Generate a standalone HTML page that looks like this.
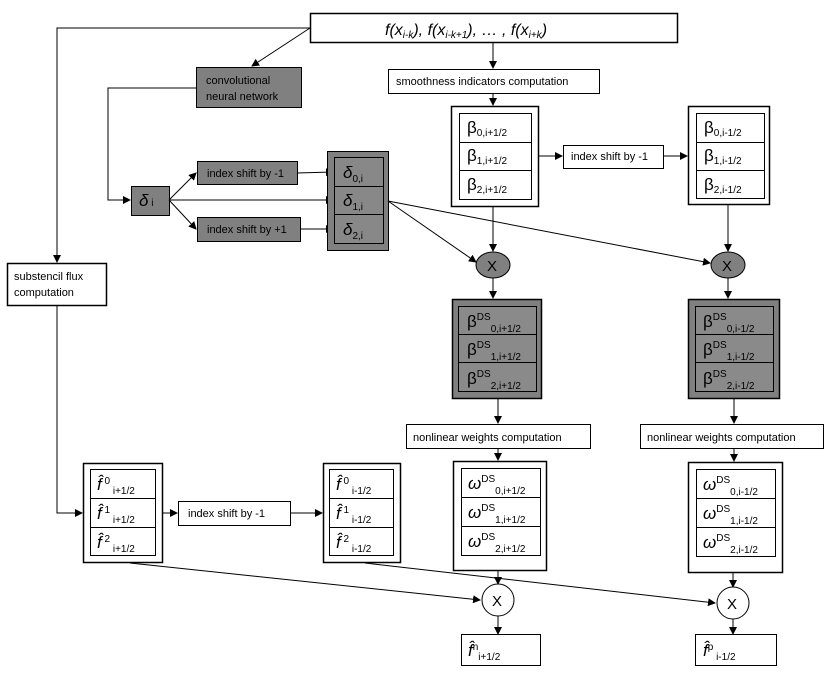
<!DOCTYPE html>
<html><head><meta charset="utf-8"><style>
body{margin:0;background:#fff}
svg{display:block}
text{font-family:"Liberation Sans",sans-serif;fill:#000}
.s{font-size:11px}
.g{font-size:17px}
.sub{font-size:10px}
</style></head><body>
<svg width="830" height="675" viewBox="0 0 830 675" xmlns="http://www.w3.org/2000/svg">
<defs>
<marker id="a" markerWidth="8" markerHeight="8" refX="7" refY="4" orient="auto" markerUnits="userSpaceOnUse"><path d="M0,0 L8,4 L0,8 z" fill="#000"/></marker>
</defs>
<g stroke="#000" stroke-width="1" fill="none">
<!-- top box -->
<rect x="310.5" y="13.5" width="367" height="29" fill="#fff" stroke-width="1.5"/>
<polyline points="310,28 57,28 57,262" marker-end="url(#a)"/>
<line x1="310" y1="28" x2="252" y2="66" marker-end="url(#a)"/>
<!-- CNN -->
<rect x="196.5" y="67.5" width="105" height="40" fill="#808080"/>
<polyline points="196,88 108,88 108,200 130,200" marker-end="url(#a)"/>
<rect x="131.5" y="186.5" width="38" height="29" fill="#808080"/>
<line x1="169" y1="200" x2="196" y2="173" marker-end="url(#a)"/>
<line x1="169" y1="200" x2="196" y2="229" marker-end="url(#a)"/>
<line x1="169" y1="200" x2="333" y2="200" marker-end="url(#a)"/>
<rect x="197.5" y="161.5" width="100" height="23" fill="#808080"/>
<rect x="197.5" y="217.5" width="103" height="24" fill="#808080"/>
<line x1="297" y1="173" x2="333" y2="172" marker-end="url(#a)"/>
<line x1="300" y1="229" x2="333" y2="229" marker-end="url(#a)"/>
<rect x="327.5" y="151.5" width="61" height="99" fill="#808080"/>
<rect x="334.5" y="157.5" width="49" height="29" fill="#888"/>
<rect x="334.5" y="186.5" width="49" height="28" fill="#888"/>
<rect x="334.5" y="214.5" width="49" height="29" fill="#888"/>
<line x1="388" y1="201" x2="476" y2="262" marker-end="url(#a)"/>
<line x1="388" y1="201" x2="710" y2="263" marker-end="url(#a)"/>
<!-- smoothness -->
<line x1="493" y1="42" x2="493" y2="68" marker-end="url(#a)"/>
<rect x="388.5" y="69.5" width="211" height="24" fill="#fff"/>
<line x1="493" y1="93" x2="493" y2="105" marker-end="url(#a)"/>
<rect x="451.5" y="106.5" width="87" height="100" fill="#fff" stroke-width="1.5"/>
<rect x="459.5" y="113.5" width="72" height="29"/>
<rect x="459.5" y="142.5" width="72" height="28"/>
<rect x="459.5" y="170.5" width="72" height="29"/>
<line x1="538" y1="156" x2="562" y2="156" marker-end="url(#a)"/>
<rect x="563.5" y="145.5" width="100" height="23" fill="#fff"/>
<line x1="663" y1="156" x2="687" y2="156" marker-end="url(#a)"/>
<rect x="688.5" y="106.5" width="81" height="98" fill="#fff" stroke-width="1.5"/>
<rect x="696.5" y="113.5" width="68" height="29"/>
<rect x="696.5" y="142.5" width="68" height="28"/>
<rect x="696.5" y="170.5" width="68" height="28"/>
<line x1="493" y1="206" x2="493" y2="251" marker-end="url(#a)"/>
<line x1="728" y1="204" x2="728" y2="251" marker-end="url(#a)"/>
<ellipse cx="493" cy="265" rx="17" ry="13" fill="#808080"/>
<ellipse cx="728" cy="265" rx="17" ry="13" fill="#808080"/>
<line x1="493" y1="278" x2="493" y2="298" marker-end="url(#a)"/>
<line x1="728" y1="278" x2="728" y2="298" marker-end="url(#a)"/>
<!-- beta DS -->
<rect x="452.5" y="299.5" width="89" height="99" fill="#808080" stroke-width="1.5"/>
<rect x="458.5" y="306.5" width="78" height="28" fill="#8a8a8a"/>
<rect x="458.5" y="334.5" width="78" height="28" fill="#8a8a8a"/>
<rect x="458.5" y="362.5" width="78" height="29" fill="#8a8a8a"/>
<rect x="688.5" y="299.5" width="91" height="99" fill="#808080" stroke-width="1.5"/>
<rect x="695.5" y="306.5" width="78" height="28" fill="#8a8a8a"/>
<rect x="695.5" y="334.5" width="78" height="28" fill="#8a8a8a"/>
<rect x="695.5" y="362.5" width="78" height="29" fill="#8a8a8a"/>
<line x1="498" y1="398" x2="498" y2="423" marker-end="url(#a)"/>
<line x1="734" y1="398" x2="734" y2="423" marker-end="url(#a)"/>
<rect x="406.5" y="424.5" width="184" height="24" fill="#fff"/>
<rect x="640.5" y="424.5" width="183" height="24" fill="#fff"/>
<line x1="498" y1="448" x2="498" y2="460" marker-end="url(#a)"/>
<line x1="734" y1="448" x2="734" y2="461" marker-end="url(#a)"/>
<!-- omega -->
<rect x="453.5" y="461.5" width="93" height="109" fill="#fff" stroke-width="1.5"/>
<rect x="461.5" y="468.5" width="79" height="29"/>
<rect x="461.5" y="497.5" width="79" height="29"/>
<rect x="461.5" y="526.5" width="79" height="29"/>
<rect x="688.5" y="462.5" width="94" height="110" fill="#fff" stroke-width="1.5"/>
<rect x="696.5" y="469.5" width="79" height="29"/>
<rect x="696.5" y="498.5" width="79" height="29"/>
<rect x="696.5" y="527.5" width="79" height="29"/>
<!-- substencil -->
<rect x="7.5" y="263.5" width="99" height="42" fill="#fff" stroke-width="1.5"/>
<polyline points="57,305 57,513 82,513" marker-end="url(#a)"/>
<rect x="83.5" y="463.5" width="79" height="99" fill="#fff" stroke-width="1.5"/>
<rect x="90.5" y="469.5" width="65" height="29"/>
<rect x="90.5" y="498.5" width="65" height="29"/>
<rect x="90.5" y="527.5" width="65" height="28"/>
<line x1="162" y1="513" x2="177" y2="513" marker-end="url(#a)"/>
<rect x="178.5" y="501.5" width="112" height="24" fill="#fff"/>
<line x1="290" y1="513" x2="322" y2="513" marker-end="url(#a)"/>
<rect x="323.5" y="463.5" width="77" height="99" fill="#fff" stroke-width="1.5"/>
<rect x="329.5" y="469.5" width="64" height="29"/>
<rect x="329.5" y="498.5" width="64" height="29"/>
<rect x="329.5" y="527.5" width="64" height="28"/>
<line x1="130" y1="563" x2="480" y2="600" marker-end="url(#a)"/>
<line x1="365" y1="563" x2="715" y2="603" marker-end="url(#a)"/>
<line x1="498" y1="570" x2="498" y2="584" marker-end="url(#a)"/>
<line x1="733" y1="572" x2="733" y2="587" marker-end="url(#a)"/>
<circle cx="498" cy="600" r="16" fill="#fff"/>
<circle cx="733" cy="603" r="16" fill="#fff"/>
<line x1="498" y1="616" x2="498" y2="634" marker-end="url(#a)"/>
<line x1="733" y1="619" x2="733" y2="634" marker-end="url(#a)"/>
<rect x="461.5" y="634.5" width="79" height="31" fill="#fff"/>
<rect x="695.5" y="634.5" width="81" height="31" fill="#fff"/>
</g>
<!-- texts -->
<text x="385" y="35" style="font-size:16px;font-style:italic">f(x<tspan class="sub" dy="3">i-k</tspan><tspan dy="-3">), f(x</tspan><tspan class="sub" dy="3">i-k+1</tspan><tspan dy="-3">), … , f(x</tspan><tspan class="sub" dy="3">i+k</tspan><tspan dy="-3">)</tspan></text>
<text class="s" x="206" y="84">convolutional</text>
<text class="s" x="206" y="100">neural network</text>
<text x="139" y="206" style="font-size:17px;font-style:italic">δ<tspan class="sub" font-style="normal"> i</tspan></text>
<text class="s" x="207" y="177">index shift by -1</text>
<text class="s" x="207" y="233">index shift by +1</text>
<text x="343" y="178" style="font-size:17px;font-style:italic">δ<tspan class="sub" dy="4" font-style="normal">0,i</tspan></text>
<text x="343" y="206" style="font-size:17px;font-style:italic">δ<tspan class="sub" dy="4" font-style="normal">1,i</tspan></text>
<text x="343" y="235" style="font-size:17px;font-style:italic">δ<tspan class="sub" dy="4" font-style="normal">2,i</tspan></text>
<text class="s" x="396" y="85">smoothness indicators computation</text>
<text class="g" x="467" y="133">β<tspan class="sub" dy="3">0,i+1/2</tspan></text>
<text class="g" x="467" y="161">β<tspan class="sub" dy="3">1,i+1/2</tspan></text>
<text class="g" x="467" y="190">β<tspan class="sub" dy="3">2,i+1/2</tspan></text>
<text class="s" x="571" y="160">index shift by -1</text>
<text class="g" x="704" y="133">β<tspan class="sub" dy="3">0,i-1/2</tspan></text>
<text class="g" x="704" y="161">β<tspan class="sub" dy="3">1,i-1/2</tspan></text>
<text class="g" x="704" y="190">β<tspan class="sub" dy="3">2,i-1/2</tspan></text>
<text x="487" y="271" style="font-size:15px">X</text>
<text x="722" y="271" style="font-size:15px">X</text>
<text class="g" x="467" y="327">β<tspan class="sub" dy="-7">DS</tspan><tspan class="sub" dy="12">0,i+1/2</tspan></text>
<text class="g" x="467" y="355">β<tspan class="sub" dy="-7">DS</tspan><tspan class="sub" dy="12">1,i+1/2</tspan></text>
<text class="g" x="467" y="384">β<tspan class="sub" dy="-7">DS</tspan><tspan class="sub" dy="12">2,i+1/2</tspan></text>
<text class="g" x="703" y="327">β<tspan class="sub" dy="-7">DS</tspan><tspan class="sub" dy="12">0,i-1/2</tspan></text>
<text class="g" x="703" y="355">β<tspan class="sub" dy="-7">DS</tspan><tspan class="sub" dy="12">1,i-1/2</tspan></text>
<text class="g" x="703" y="384">β<tspan class="sub" dy="-7">DS</tspan><tspan class="sub" dy="12">2,i-1/2</tspan></text>
<text class="s" x="413" y="441">nonlinear weights computation</text>
<text class="s" x="647" y="441">nonlinear weights computation</text>
<text class="g" x="468" y="489" font-style="italic">ω<tspan class="sub" font-style="normal" dy="-7">DS</tspan><tspan class="sub" font-style="normal" dy="12">0,i+1/2</tspan></text>
<text class="g" x="468" y="518" font-style="italic">ω<tspan class="sub" font-style="normal" dy="-7">DS</tspan><tspan class="sub" font-style="normal" dy="12">1,i+1/2</tspan></text>
<text class="g" x="468" y="547" font-style="italic">ω<tspan class="sub" font-style="normal" dy="-7">DS</tspan><tspan class="sub" font-style="normal" dy="12">2,i+1/2</tspan></text>
<text class="g" x="703" y="490" font-style="italic">ω<tspan class="sub" font-style="normal" dy="-7">DS</tspan><tspan class="sub" font-style="normal" dy="12">0,i-1/2</tspan></text>
<text class="g" x="703" y="519" font-style="italic">ω<tspan class="sub" font-style="normal" dy="-7">DS</tspan><tspan class="sub" font-style="normal" dy="12">1,i-1/2</tspan></text>
<text class="g" x="703" y="548" font-style="italic">ω<tspan class="sub" font-style="normal" dy="-7">DS</tspan><tspan class="sub" font-style="normal" dy="12">2,i-1/2</tspan></text>
<text class="s" x="14" y="280">substencil flux</text>
<text class="s" x="14" y="296">computation</text>
<text class="g" x="97" y="490" font-style="italic">f̂<tspan class="sub" font-style="normal" dy="-6"> 0</tspan><tspan class="sub" font-style="normal" dy="10"> i+1/2</tspan></text>
<text class="g" x="97" y="519" font-style="italic">f̂<tspan class="sub" font-style="normal" dy="-6"> 1</tspan><tspan class="sub" font-style="normal" dy="10"> i+1/2</tspan></text>
<text class="g" x="97" y="548" font-style="italic">f̂<tspan class="sub" font-style="normal" dy="-6"> 2</tspan><tspan class="sub" font-style="normal" dy="10"> i+1/2</tspan></text>
<text class="s" x="188" y="517">index shift by -1</text>
<text class="g" x="336" y="490" font-style="italic">f̂<tspan class="sub" font-style="normal" dy="-6"> 0</tspan><tspan class="sub" font-style="normal" dy="10"> i-1/2</tspan></text>
<text class="g" x="336" y="519" font-style="italic">f̂<tspan class="sub" font-style="normal" dy="-6"> 1</tspan><tspan class="sub" font-style="normal" dy="10"> i-1/2</tspan></text>
<text class="g" x="336" y="548" font-style="italic">f̂<tspan class="sub" font-style="normal" dy="-6"> 2</tspan><tspan class="sub" font-style="normal" dy="10"> i-1/2</tspan></text>
<text x="492" y="606" style="font-size:15px">X</text>
<text x="727" y="609" style="font-size:15px">X</text>
<text class="g" x="468" y="656" font-style="italic">f̂<tspan class="sub" font-style="normal" dy="-6">n</tspan><tspan class="sub" font-style="normal" dy="10">i+1/2</tspan></text>
<text class="g" x="703" y="656" font-style="italic">f̂<tspan class="sub" font-style="normal" dy="-6">p</tspan><tspan class="sub" font-style="normal" dy="10"> i-1/2</tspan></text>
</svg>
</body></html>
